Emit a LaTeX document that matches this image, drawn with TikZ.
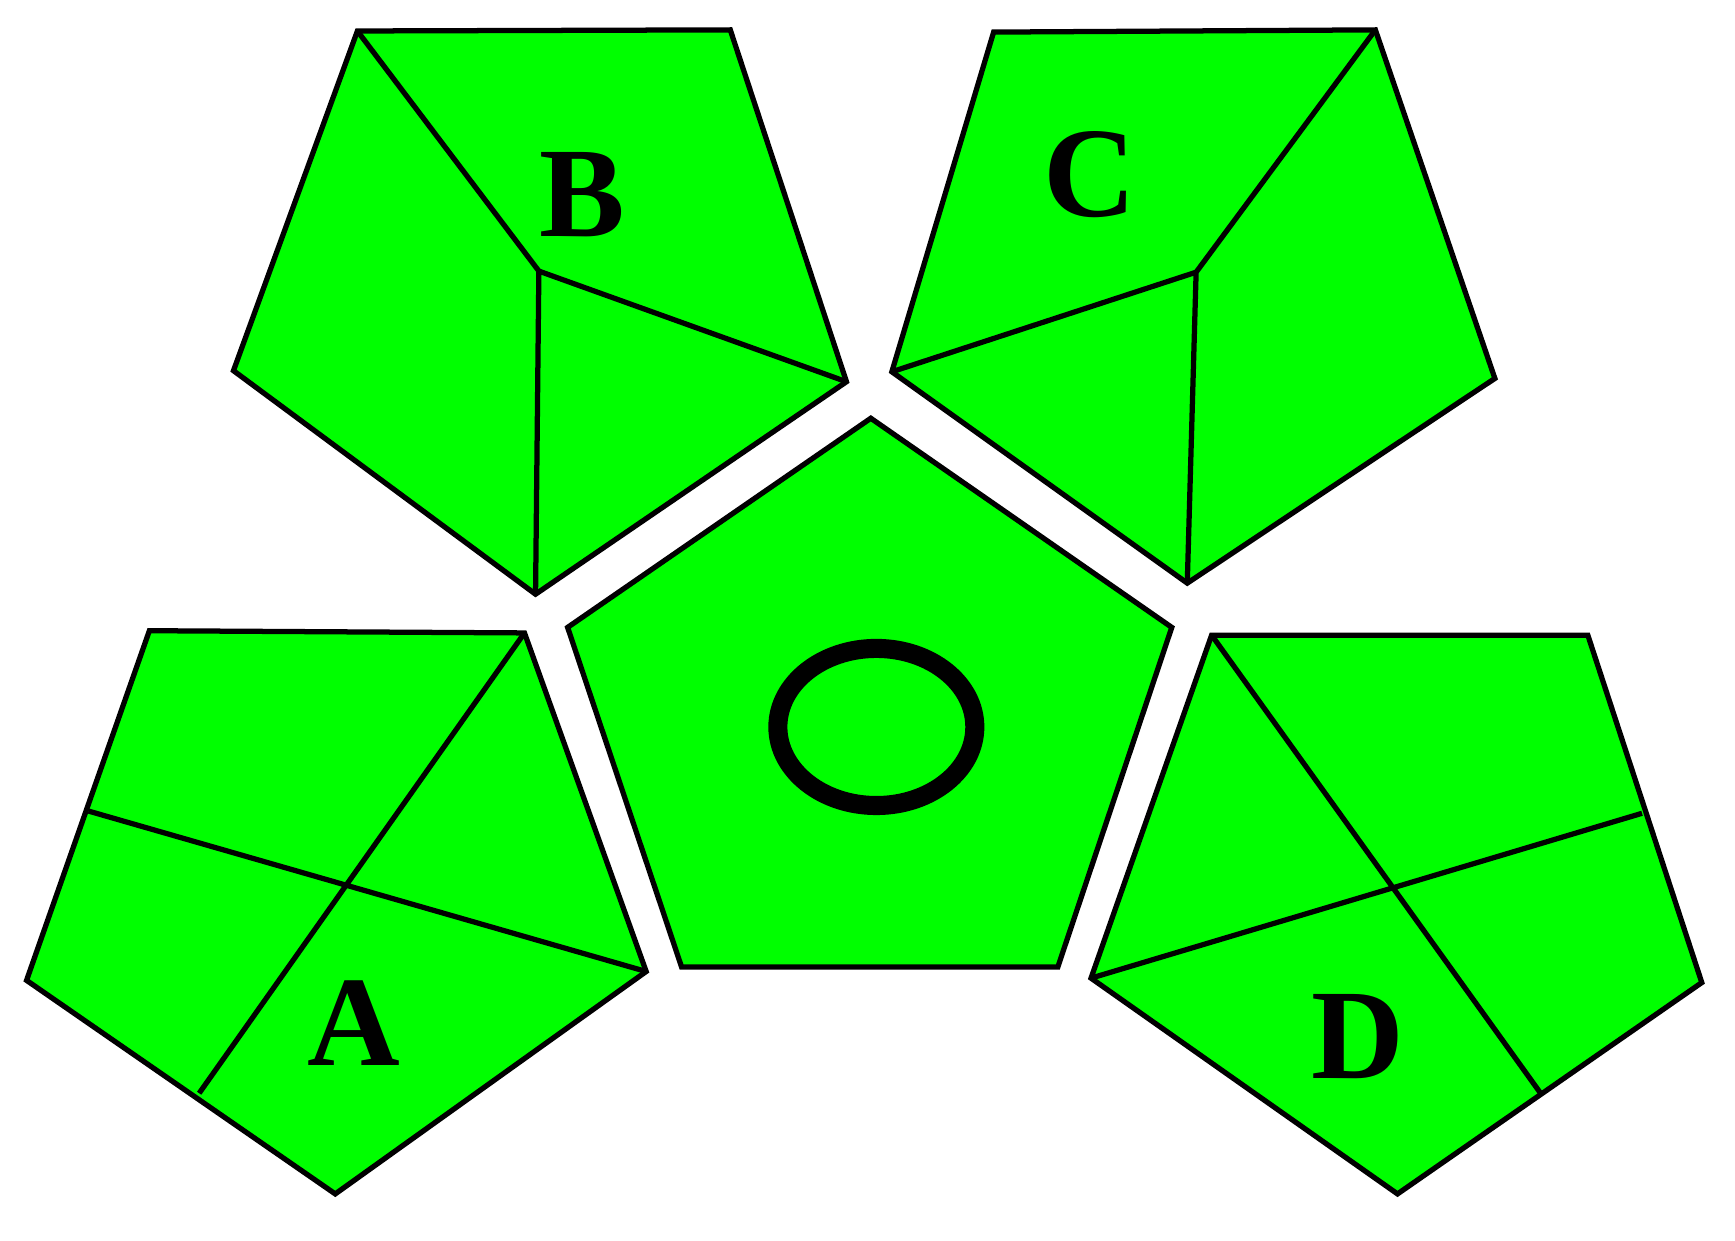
\documentclass[tikz,border=0pt]{standalone}
\usepackage{fontspec}
\newfontfamily\tagfont{Liberation Serif}[UprightFont=*-Bold]
\definecolor{facegreen}{RGB}{0,255,0}
\tikzset{
  face/.style={draw=black, fill=facegreen, line width=1.35pt, line join=miter},
  crease/.style={draw=black, line width=1.35pt},
  facename/.style={font=\tagfont\fontsize{33}{36}\selectfont, inner sep=0pt}
}

\begin{document}
\begin{tikzpicture}[x=0.01cm, y=-0.01cm]
  \useasboundingbox (0,0) rectangle (1568,1121);

  % face B
  \draw[face] (323,28) coordinate (b1) -- (660,27) -- (765,345) coordinate (b3)
    -- (484,537) coordinate (b4) -- (211,335) -- cycle;
  \coordinate (bm) at (487,245);
  \draw[crease] (b1) -- (bm) -- (b3) (bm) -- (b4);
  \node[facename] (labB) at (526,176) {B};

  % face C
  \draw[face] (898,29) -- (1243,27) coordinate (c2) -- (1351,342)
    -- (1073,527) coordinate (c4) -- (806,336) coordinate (c5) -- cycle;
  \coordinate (cm) at (1081,246);
  \draw[crease] (c2) -- (cm) -- (c5) (cm) -- (c4);
  \node[facename] (labC) at (985,158) {C};

  % face O
  \draw[face] (787,378) -- (1059,567) -- (956,874) -- (616,874) -- (513,567) -- cycle;
  \draw[line width=4.9pt] (792,657) ellipse (89 and 71);

  % face A
  \draw[face] (135,570) -- (474,572) coordinate (a2) -- (584,878) coordinate (a3)
    -- (303,1079) -- (24,886) -- cycle;
  \coordinate (ae) at (80,733);
  \coordinate (ab) at (180,988);
  \draw[crease] (a2) -- (ab) (ae) -- (a3);
  \node[facename] (labA) at (320,925) {A};

  % face D
  \draw[face] (1095,574) coordinate (d1) -- (1435,574) -- (1538,888)
    -- (1263,1079) -- (986,884) coordinate (d5) -- cycle;
  \coordinate (de) at (1484,735);
  \coordinate (db) at (1393,989);
  \draw[crease] (d1) -- (db) (d5) -- (de);
  \node[facename] (labD) at (1227,937) {D};
\end{tikzpicture}
\end{document}
